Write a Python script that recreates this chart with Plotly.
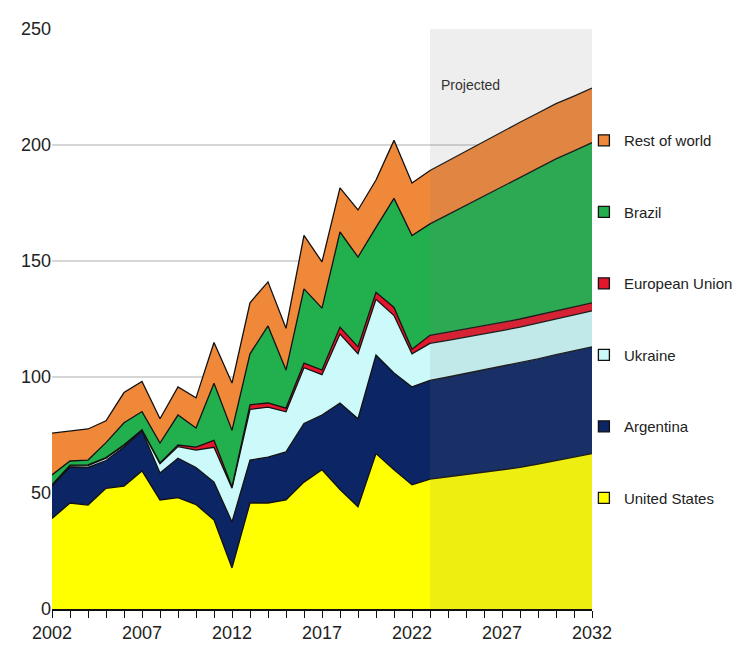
import plotly.graph_objects as go

YEARS = list(range(2002, 2033))

UNITED_STATES = [39, 45.7, 44.8, 52, 53, 59.5, 47, 48, 45, 38.4, 17.7,
                 45.7, 45.7, 47, 54.7, 60, 51.5, 44, 67, 60, 53.5,
                 56, 57, 58, 59, 60, 61, 62.5, 64, 65.5, 67]
ARGENTINA = [14, 15.5, 16.2, 12, 16.8, 17.3, 11.6, 17, 16, 16.3, 19.8,
             18.5, 19.8, 20.7, 25.3, 23.6, 37.3, 38, 42.5, 41.7, 42.2,
             42.5, 43, 43.5, 44, 44.5, 45, 45.3, 45.6, 45.8, 46]
UKRAINE = [0.3, 0.5, 0.8, 1, 0.7, 0.3, 4, 5, 7.5, 15, 14.6,
           21.8, 21.5, 17.3, 24, 17.4, 29.7, 28, 24, 24.8, 14.3,
           16, 15.8, 15.6, 15.5, 15.5, 15.5, 15.5, 15.5, 15.5, 15.5]
EUROPEAN_UNION = [0.3, 0.3, 0.3, 0.3, 0.3, 0.2, 0.4, 0.7, 1.3, 3, 0.5,
                  2, 1.8, 1.6, 2, 2, 3, 3, 3, 3.5, 2,
                  3.5, 3.5, 3.5, 3.5, 3.5, 3.5, 3.5, 3.5, 3.5, 3.5]
BRAZIL = [4.2, 1.8, 2.1, 6.4, 9.5, 7.8, 8.5, 12.9, 8.2, 24.6, 24.4,
          22, 33.2, 16.4, 32, 26.7, 41, 38.7, 28, 47, 49,
          48, 50.7, 53.4, 56, 58.5, 61, 63.2, 65.4, 67.2, 69]
REST_OF_WORLD = [18, 13, 13.4, 9.4, 13, 13, 10.5, 12.1, 13, 17.6, 20.4,
                 22, 19, 18, 23, 19.9, 19, 20.3, 20.4, 25, 22.6,
                 23, 23.2, 23.4, 23.6, 23.8, 23.8, 23.8, 23.8, 23.6, 23.5]

SERIES = [
    ("United States", UNITED_STATES, "#FFFF00"),
    ("Argentina", ARGENTINA, "#0B2565"),
    ("Ukraine", UKRAINE, "#CCFAFA"),
    ("European Union", EUROPEAN_UNION, "#E3162B"),
    ("Brazil", BRAZIL, "#22B04E"),
    ("Rest of world", REST_OF_WORLD, "#F0883A"),
]

FONT = "Liberation Sans Narrow, Arial Narrow, Liberation Sans, Arial, sans-serif"

fig = go.Figure()
for name, vals, color in SERIES:
    fig.add_trace(go.Scatter(
        x=YEARS, y=vals, name=name, stackgroup="one", mode="lines",
        line=dict(color="#111111", width=1.3), fillcolor=color,
        showlegend=False,
    ))

# legend entries as small squares, top item = top of stack
for name, vals, color in reversed(SERIES):
    fig.add_trace(go.Scatter(
        x=[None], y=[None], mode="markers", name=name, legendgroup=name,
        marker=dict(symbol="square", size=11, color=color,
                    line=dict(color="#111111", width=1.3)),
    ))

# projected period shading
fig.add_vrect(x0=2023, x1=2032, y0=0, y1=1, fillcolor="rgba(120,120,120,0.13)",
              line_width=0, layer="above")
fig.add_annotation(x=2023.5, y=226, text="Projected", showarrow=False,
                   xanchor="left", font=dict(size=14, color="#333333", family=FONT))

fig.update_layout(
    width=740, height=665,
    paper_bgcolor="white", plot_bgcolor="white",
    margin=dict(l=44, r=156, t=21, b=64, autoexpand=False),
    font=dict(family=FONT, color="#222222", size=17),
    showlegend=True,
    legend=dict(x=0.985, y=0.836, xanchor="left", yanchor="top",
                tracegroupgap=49, font=dict(size=15, family=FONT),
                itemwidth=30, bgcolor="rgba(0,0,0,0)"),
    xaxis=dict(range=[2002, 2032], tickvals=YEARS,
               ticktext=[str(y) if (y - 2002) % 5 == 0 else "" for y in YEARS],
               ticks="outside", ticklen=7, tickwidth=1.3, tickcolor="#111111",
               showline=True, linecolor="#111111", linewidth=1.5,
               showgrid=False, zeroline=False, tickfont=dict(size=18)),
    yaxis=dict(range=[0, 250], dtick=50, showgrid=True, gridcolor="#D6D6D6",
               gridwidth=2, zeroline=False, showline=False,
               ticks="", tickfont=dict(size=18)),
)

fig.write_html("out.html")
